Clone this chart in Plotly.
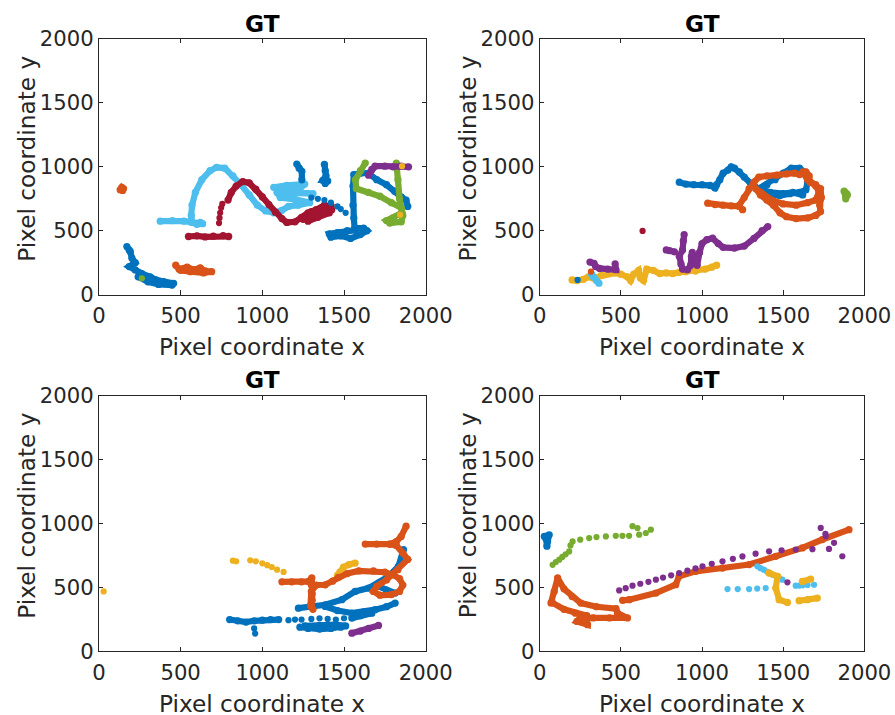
import plotly.graph_objects as go

# MATLAB default palette
C_BLUE = "#0072BD"
C_ORANGE = "#D95319"
C_YELLOW = "#EDB120"
C_PURPLE = "#7E2F8E"
C_GREEN = "#77AC30"
C_LBLUE = "#4DBEEE"
C_RED = "#A2142F"

x_ticks = [0, 500, 1000, 1500, 2000]
y_ticks = [0, 500, 1000, 1500, 2000]
subplot_titles = ["GT", "GT", "GT", "GT"]
x_label = "Pixel coordinate x"
y_label = "Pixel coordinate y"

# ---------------- panel 1 (top-left) ----------------
p1_orange_a = [(130, 820), (140, 840), (150, 830), (145, 815)]
p1_blue_a = [(171, 376), (185, 350), (192, 336), (202, 285), (222, 250), (185, 220), (222, 193),
             (263, 165), (314, 140), (345, 118), (396, 102), (457, 89), (447, 75), (365, 80),
             (300, 100), (240, 140)]
p1_green_dot = [(263, 128)]
p1_orange_b = [(470, 230), (490, 200), (540, 215), (580, 195), (620, 210), (650, 185),
               (690, 180), (640, 170), (560, 180), (500, 190)]
p1_lblue = [(375, 575), (450, 580), (520, 575), (560, 570), (620, 565), (635, 555), (600, 550),
            (570, 565), (565, 620), (570, 700), (590, 800), (630, 900), (680, 970), (720, 995),
            (770, 990), (820, 930), (870, 860), (920, 780), (970, 700), (1020, 655), (1070, 640),
            (1120, 660), (1160, 690), (1220, 700), (1290, 720), (1200, 745), (1110, 760),
            (1090, 800), (1160, 795), (1310, 790), (1160, 810), (1070, 840), (1150, 855),
            (1260, 865), (1230, 830), (1120, 830)]
p1_red_a = [(548, 455), (600, 460), (650, 452), (700, 457), (760, 462), (794, 455)]
p1_red_dots = [(735, 560), (738, 600), (742, 640), (748, 680), (755, 710)]
p1_red_b = [(790, 740), (810, 800), (840, 850), (880, 885), (920, 875), (960, 825), (1000, 765),
            (1040, 705), (1080, 645), (1120, 595), (1150, 565), (1200, 570), (1240, 605),
            (1280, 640), (1330, 665), (1380, 700), (1420, 690), (1410, 640), (1340, 605),
            (1280, 575), (1300, 615), (1380, 640), (1425, 665), (1300, 650), (1250, 590)]
p1_blue_b = [(1211, 1022), (1225, 990), (1242, 965), (1242, 899)]
p1_blue_c = [(1380, 1020), (1385, 970), (1390, 930), (1370, 895), (1400, 890), (1385, 870)]
p1_blue_dots = [(1300, 760), (1340, 750), (1380, 740), (1420, 720), (1460, 690), (1480, 670),
                (1510, 640)]
p1_blue_d = [(1890, 690), (1880, 740), (1850, 765), (1810, 810), (1760, 860), (1700, 900),
             (1650, 950), (1600, 950), (1560, 940), (1555, 850), (1555, 700), (1560, 600),
             (1565, 520), (1620, 520), (1640, 500), (1600, 470), (1540, 440), (1480, 460),
             (1420, 450), (1410, 475), (1460, 485), (1520, 500), (1570, 505)]
p1_green = [(1630, 1030), (1600, 970), (1570, 900), (1575, 830), (1650, 800), (1720, 770),
            (1790, 720), (1850, 680), (1855, 640), (1800, 600), (1760, 580), (1780, 560),
            (1850, 570), (1860, 620), (1840, 750), (1830, 900), (1820, 1030)]
p1_purple = [(1650, 935), (1670, 980), (1690, 1005), (1750, 1005), (1800, 1000), (1850, 1005),
             (1895, 1000)]
p1_yellow_dots = [(1855, 1005), (1843, 625)]

# ---------------- panel 2 (top-right) ----------------
p2_yellow = [(200, 115), (230, 110), (270, 120), (300, 140), (330, 130), (380, 150), (430, 165),
             (460, 170), (500, 160), (540, 140), (560, 110), (580, 160), (610, 190), (620, 130),
             (640, 110), (660, 200), (700, 190), (740, 165), (780, 170), (820, 165), (860, 175),
             (900, 180), (960, 185), (1020, 200), (1060, 215), (1090, 230)]
p2_lblue = [(320, 160), (330, 140), (350, 110), (365, 90)]
p2_blue_dot = [(234, 115)]
p2_orange_dot = [(316, 180)]
p2_red_dot = [(634, 499)]
p2_purple_a = [(310, 255), (335, 245), (345, 220), (370, 205), (420, 200), (470, 195), (465, 240)]
p2_purple_b = [(780, 350), (800, 345), (830, 335)]
p2_purple_c = [(890, 470), (885, 420), (880, 350), (860, 300), (870, 240), (880, 200), (910, 195),
               (930, 230), (935, 300), (940, 330), (955, 280), (970, 230), (985, 330), (1000, 400),
               (1030, 430), (1065, 442), (1100, 400), (1130, 370), (1200, 365), (1260, 380),
               (1320, 440), (1370, 500), (1405, 533)]
p2_blue = [(860, 880), (900, 865), (950, 860), (1000, 860), (1050, 855), (1080, 835), (1090, 860),
           (1110, 900), (1130, 950), (1160, 975), (1180, 1000), (1200, 990), (1230, 960),
           (1260, 920), (1300, 870), (1330, 840), (1380, 800), (1430, 780), (1480, 775),
           (1540, 790), (1600, 800), (1640, 820), (1650, 880), (1640, 950), (1600, 990),
           (1550, 990), (1500, 950), (1450, 900), (1400, 860), (1350, 830), (1420, 800),
           (1500, 790), (1560, 800), (1620, 780)]
p2_orange_a = [(1035, 716), (1080, 705), (1130, 700), (1180, 695), (1230, 690), (1250, 665)]
p2_orange_b = [(1230, 700), (1260, 760), (1290, 830), (1320, 880), (1350, 920), (1400, 930),
               (1460, 935), (1520, 945), (1570, 950), (1600, 940), (1640, 960), (1660, 930),
               (1665, 880), (1700, 850), (1730, 830), (1735, 760), (1725, 700), (1730, 650),
               (1700, 620), (1650, 600), (1580, 595), (1520, 610), (1480, 640), (1440, 700),
               (1400, 740), (1360, 780), (1330, 830), (1360, 800), (1430, 740), (1500, 710),
               (1580, 700), (1650, 720), (1700, 740), (1720, 800), (1700, 860), (1650, 900),
               (1620, 960)]
p2_green = [(1880, 800), (1890, 790), (1885, 770), (1875, 810), (1895, 780), (1885, 750)]

# ---------------- panel 3 (bottom-left) ----------------
p3_yellow_dot = [(29, 470)]
p3_yellow_a = [(820, 710), (840, 705), (926, 713), (960, 705), (1000, 690), (1030, 675),
               (1058, 661), (1090, 640), (1130, 622)]
p3_yellow_b = [(1460, 595), (1475, 620), (1497, 660), (1530, 680), (1568, 692)]
p3_orange = [(1120, 545), (1180, 545), (1240, 545), (1283, 548), (1303, 575), (1300, 520),
             (1305, 450), (1305, 400), (1300, 350), (1310, 330), (1295, 360), (1300, 470),
             (1330, 520), (1385, 522), (1430, 550), (1466, 580), (1520, 610), (1590, 630),
             (1680, 630), (1750, 620), (1800, 600), (1840, 570), (1860, 520), (1840, 470),
             (1790, 445), (1720, 440), (1680, 470), (1700, 510), (1760, 560), (1830, 640),
             (1890, 720), (1860, 770), (1820, 830), (1780, 840), (1700, 840), (1630, 840),
             (1780, 840), (1820, 860), (1850, 900), (1880, 980)]
p3_blue_a = [(800, 250), (850, 240), (900, 230), (950, 240), (1000, 245), (1050, 250),
             (1100, 250)]
p3_blue_dots = [(1160, 245), (1200, 250), (1240, 250), (1300, 255), (1350, 260), (1400, 255),
                (1450, 250), (1500, 260), (956, 140), (950, 180)]
p3_blue_b = [(1230, 190), (1280, 180), (1350, 175), (1420, 180), (1480, 190), (1510, 200),
             (1450, 210), (1350, 205), (1260, 200)]
p3_blue_c = [(1221, 339), (1300, 350), (1385, 365), (1487, 405), (1568, 470), (1650, 496),
             (1711, 535), (1772, 587), (1833, 666), (1864, 797)]
p3_blue_d = [(1385, 352), (1460, 320), (1548, 300), (1620, 310), (1691, 327), (1760, 350),
             (1813, 379)]
p3_blue_e = [(1548, 261), (1600, 280), (1670, 300)]
p3_blue_f = [(1711, 509), (1760, 480), (1813, 457)]
p3_purple = [(1548, 143), (1600, 160), (1650, 180), (1711, 204)]

# ---------------- panel 4 (bottom-right) ----------------
p4_blue = [(29, 900), (59, 913), (49, 860), (45, 824), (40, 880)]
p4_green = [(80, 678), (100, 700), (121, 718), (140, 740), (160, 760), (182, 783), (190, 830),
            (203, 861), (250, 875), (305, 887), (350, 895), (408, 900), (469, 905), (510, 905),
            (551, 905), (572, 980), (603, 966), (613, 914), (654, 927), (685, 953)]
p4_orange_a = [(70, 380), (90, 470), (111, 575), (150, 490), (200, 430), (254, 379), (350, 350),
               (470, 335), (480, 300), (541, 262), (430, 262), (330, 262), (250, 262), (230, 235),
               (295, 210), (290, 280), (220, 300), (150, 330), (80, 380)]
p4_orange_b = [(511, 400), (552, 405), (716, 457), (838, 523), (859, 588), (961, 627),
               (1126, 653), (1290, 680), (1454, 745), (1618, 810), (1741, 876), (1905, 953)]
p4_purple = [(490, 478), (530, 495), (572, 515), (620, 530), (670, 545), (716, 562), (760, 578),
             (810, 596), (859, 614), (910, 632), (960, 650), (1003, 666), (1060, 686),
             (1126, 705), (1190, 725), (1249, 744), (1330, 765), (1413, 784), (1490, 792),
             (1577, 797), (1680, 800), (1782, 802), (1762, 902), (1731, 967), (1760, 920),
             (1813, 850), (1864, 745)]
p4_lblue_a = [(1157, 488), (1220, 488), (1290, 488), (1340, 492), (1392, 496), (1454, 496)]
p4_lblue_b = [(1341, 666), (1360, 652), (1380, 640), (1400, 625), (1413, 614), (1435, 600),
              (1455, 590), (1475, 575), (1495, 562)]
p4_lblue_c = [(1577, 515), (1600, 516), (1620, 518), (1650, 520), (1690, 522)]
p4_yellow_a = [(1413, 614), (1465, 588), (1454, 496), (1475, 405), (1526, 384)]
p4_yellow_b = [(1618, 548), (1669, 567)]
p4_yellow_c = [(1598, 397), (1650, 405), (1710, 418)]
p4_purple_dot = [(1526, 541)]

# (points, colour, dense-trajectory?)
panels = [
    [(p1_orange_a, C_ORANGE, True), (p1_blue_a, C_BLUE, True), (p1_green_dot, C_GREEN, False),
     (p1_orange_b, C_ORANGE, True), (p1_lblue, C_LBLUE, True), (p1_red_a, C_RED, True),
     (p1_red_dots, C_RED, False), (p1_red_b, C_RED, True), (p1_blue_b, C_BLUE, True),
     (p1_blue_c, C_BLUE, True), (p1_blue_dots, C_BLUE, False), (p1_blue_d, C_BLUE, True),
     (p1_green, C_GREEN, True), (p1_purple, C_PURPLE, True), (p1_yellow_dots, C_YELLOW, False)],
    [(p2_yellow, C_YELLOW, True), (p2_lblue, C_LBLUE, True), (p2_blue_dot, C_BLUE, False),
     (p2_orange_dot, C_ORANGE, False), (p2_red_dot, C_RED, False), (p2_purple_a, C_PURPLE, True),
     (p2_purple_b, C_PURPLE, True), (p2_purple_c, C_PURPLE, True), (p2_blue, C_BLUE, True),
     (p2_orange_a, C_ORANGE, True), (p2_orange_b, C_ORANGE, True), (p2_green, C_GREEN, True)],
    [(p3_yellow_dot, C_YELLOW, False), (p3_yellow_a, C_YELLOW, False), (p3_yellow_b, C_YELLOW, True),
     (p3_blue_a, C_BLUE, True), (p3_blue_dots, C_BLUE, False), (p3_blue_b, C_BLUE, True),
     (p3_blue_c, C_BLUE, True), (p3_blue_d, C_BLUE, True), (p3_blue_e, C_BLUE, True),
     (p3_blue_f, C_BLUE, True), (p3_purple, C_PURPLE, True), (p3_orange, C_ORANGE, True)],
    [(p4_blue, C_BLUE, True), (p4_green, C_GREEN, False), (p4_orange_a, C_ORANGE, True),
     (p4_orange_b, C_ORANGE, True), (p4_purple, C_PURPLE, False), (p4_lblue_a, C_LBLUE, False),
     (p4_lblue_b, C_LBLUE, False), (p4_lblue_c, C_LBLUE, False), (p4_yellow_a, C_YELLOW, True),
     (p4_yellow_b, C_YELLOW, True), (p4_yellow_c, C_YELLOW, True), (p4_purple_dot, C_PURPLE, False)],
]

# The captured picture maps page pixels as picture = S*page + (OX, OY); the layout below
# is expressed in target-picture pixels and converted back to page pixels.
S = 0.964
OX, OY = 5, 12
W, H = 927, 740
# plot-area boxes in target-picture pixels (left, right, top, bottom)
boxes = [(97, 424, 38, 293), (538, 863, 38, 293), (97, 424, 394, 649), (538, 863, 394, 649)]


def fx(xp):
    return (xp - OX) / S / W


def fy(yp):
    return 1 - (yp - OY) / S / H


def sz(v):
    return v / S


fig = go.Figure()
for i, traces in enumerate(panels):
    ax = "" if i == 0 else str(i + 1)
    for pts, col, dense in traces:
        xs = [p[0] for p in pts]
        ys = [p[1] for p in pts]
        if dense:
            fig.add_trace(go.Scatter(x=xs, y=ys, mode="lines+markers", xaxis="x" + ax, yaxis="y" + ax,
                                     line=dict(color=col, width=sz(6)),
                                     marker=dict(color=col, size=sz(7)),
                                     showlegend=False, hoverinfo="skip"))
        else:
            fig.add_trace(go.Scatter(x=xs, y=ys, mode="markers", xaxis="x" + ax, yaxis="y" + ax,
                                     marker=dict(color=col, size=sz(6)), showlegend=False,
                                     hoverinfo="skip"))

axis_style = dict(range=[0, 2000], showgrid=False, zeroline=False, showline=True, linecolor="#262626",
                  linewidth=1, mirror="ticks", ticks="inside", ticklen=sz(4), tickcolor="#262626",
                  tickfont=dict(family="DejaVu Sans", size=sz(20.4), color="#262626"))
annotations = []
layout = dict(width=W, height=H, autosize=False, margin=dict(l=0, r=0, t=0, b=0, pad=0),
              plot_bgcolor="white", paper_bgcolor="white", showlegend=False)
for i, (l, r, t, b) in enumerate(boxes):
    ax = "" if i == 0 else str(i + 1)
    layout["xaxis" + ax] = dict(axis_style, domain=[fx(l), fx(r)], anchor="y" + ax,
                                tickvals=x_ticks, ticktext=[str(v) for v in x_ticks],
                                ticklabelstandoff=2)
    layout["yaxis" + ax] = dict(axis_style, domain=[fy(b), fy(t)], anchor="x" + ax,
                                tickvals=y_ticks, ticktext=[str(v) for v in y_ticks])
    cx = (l + r) / 2
    common = dict(xref="paper", yref="paper", showarrow=False, xanchor="center", yanchor="middle")
    annotations.append(dict(common, text="<b>" + subplot_titles[i] + "</b>", x=fx(cx),
                            y=fy(t - 16),
                            font=dict(family="DejaVu Sans", size=sz(22.4), color="black")))
    annotations.append(dict(common, text=x_label, x=fx(cx), y=fy(b + 52),
                            font=dict(family="DejaVu Sans", size=sz(22.4), color="#262626")))
    annotations.append(dict(common, text=y_label, x=fx(l - 72), y=fy((t + b) / 2 - 8),
                            textangle=-90,
                            font=dict(family="DejaVu Sans", size=sz(22.4), color="#262626")))
layout["annotations"] = annotations
fig.update_layout(**layout)
fig.write_html("out.html", config={"displayModeBar": False})
